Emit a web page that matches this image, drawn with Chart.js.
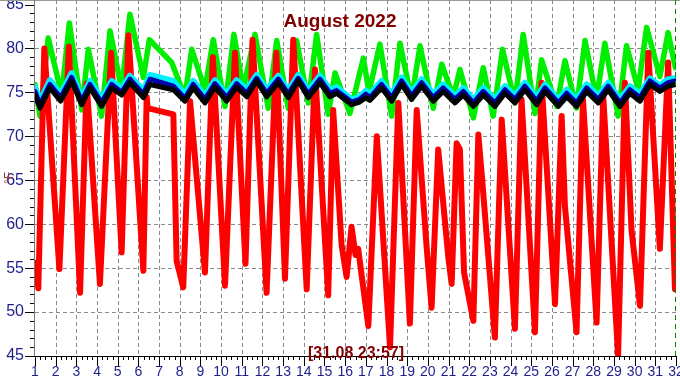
<!DOCTYPE html>
<html><head><meta charset="utf-8">
<script src="https://cdn.jsdelivr.net/npm/chart.js@4/dist/chart.umd.min.js"></script>
<style>html,body{margin:0;padding:0;background:#fff;}canvas{display:block;}</style>
</head><body>
<canvas id="c" width="680" height="380"></canvas>
<script>
// ---- data ----
const chartTitle = 'August 2022';
const stampLabel = '[31.08 23:57]';
const unitLabel = '°F';
const dayTicks = [1,2,3,4,5,6,7,8,9,10,11,12,13,14,15,16,17,18,19,20,21,22,23,24,25,26,27,28,29,30,31,32];
const tempTicks = [45,50,55,60,65,70,75,80,85];

const redDays = [1.00,1.16,1.45,2.18,2.64,3.18,3.50,4.14,4.68,5.19,5.52,6.24,6.40,6.45,7.69,7.85,8.17,8.50,9.22,9.60,10.19,10.67,11.18,11.52,12.20,12.67,13.09,13.49,14.14,14.54,15.18,15.42,15.83,16.07,16.31,16.50,16.63,17.12,17.53,18.17,18.57,19.13,19.46,19.94,20.18,20.50,20.99,21.15,21.39,21.55,21.75,22.20,22.44,22.60,23.24,23.57,24.21,24.53,25.18,25.50,26.15,26.47,26.63,27.19,27.50,28.16,28.48,29.20,29.53,29.85,30.26,30.66,31.22,31.62,31.95];
const redTemps = [55.6,52.7,80.0,54.9,80.2,52.2,76.0,53.2,79.5,56.8,81.5,54.7,74.5,73.2,72.5,55.8,52.8,74.0,54.5,79.0,53.0,79.5,55.5,81.0,52.2,79.5,53.8,81.0,52.6,77.6,51.9,73.0,57.6,54.0,59.7,56.5,57.2,48.4,70.0,46.0,73.8,48.7,73.0,57.4,50.5,68.5,56.2,53.2,69.2,68.5,54.5,49.0,70.2,65.8,47.1,71.9,48.1,74.2,47.7,76.1,50.9,72.3,62.0,47.7,74.2,48.8,74.6,45.0,76.1,59.3,50.7,79.5,57.2,78.4,52.6];

const greenDays = [1.00,1.24,1.64,2.29,2.66,3.26,3.58,4.22,4.63,5.19,5.59,6.24,6.53,7.61,8.25,8.58,9.22,9.62,10.19,10.62,11.07,11.64,12.28,12.69,13.25,13.65,14.22,14.62,15.18,15.51,16.23,16.88,17.15,17.68,18.25,18.65,19.21,19.62,20.26,20.67,21.23,21.55,22.20,22.68,23.16,23.61,24.21,24.61,25.18,25.50,26.23,26.63,27.19,27.60,28.16,28.56,29.20,29.61,30.17,30.58,31.22,31.62,31.97];
const greenTemps = [75.9,72.3,81.2,74.7,82.9,73.0,79.9,72.3,82.0,75.3,83.9,76.7,81.0,78.4,74.5,79.9,75.3,81.0,73.4,81.6,75.3,81.6,73.2,80.9,73.2,80.9,73.8,81.6,72.5,77.2,72.6,78.9,75.0,80.5,72.3,80.6,74.2,80.3,73.2,78.2,74.5,77.6,72.1,77.8,72.3,79.9,73.8,81.6,72.6,78.7,73.4,78.6,73.2,80.9,74.2,80.6,72.3,80.3,75.3,82.4,76.8,81.8,77.8];

const indoorDays = [1.00,1.24,1.72,2.24,2.77,3.26,3.66,4.22,4.71,5.19,5.59,6.24,6.56,7.69,8.25,8.65,9.22,9.70,10.27,10.75,11.24,11.72,12.20,12.77,13.25,13.73,14.22,14.78,15.26,15.59,16.31,16.70,17.00,17.20,17.76,18.25,18.73,19.21,19.70,20.26,20.74,21.31,21.71,22.20,22.68,23.24,23.73,24.21,24.69,25.26,25.66,26.31,26.71,27.19,27.68,28.24,28.72,29.29,29.77,30.26,30.74,31.22,31.62,31.97];
const cyanTemps = [75.6,74.0,76.4,74.8,77.2,74.4,76.3,74.2,76.3,75.4,76.9,75.2,77.0,76.3,74.8,76.3,74.6,76.4,74.8,76.4,75.3,77.0,75.3,76.9,75.2,77.0,75.2,76.9,75.3,75.6,74.2,74.5,75.2,74.8,76.3,74.8,76.7,75.0,76.5,74.8,75.9,74.6,75.5,74.2,75.5,74.2,75.7,74.6,76.1,74.4,75.9,74.2,75.3,74.2,75.9,74.6,76.1,74.2,75.7,74.8,76.6,75.8,76.5,76.6];
const blueTemps = [75.1,73.6,75.9,74.4,76.7,74.0,75.9,73.8,75.9,75.0,76.5,74.8,76.5,75.7,74.3,75.9,74.2,76.0,74.4,76.0,74.9,76.6,74.9,76.5,74.8,76.6,74.8,76.5,74.9,75.2,73.9,74.2,74.8,74.4,75.9,74.4,76.3,74.6,76.1,74.4,75.5,74.2,75.1,73.8,75.1,73.8,75.3,74.2,75.7,74.0,75.5,73.8,74.9,73.8,75.5,74.2,75.7,73.8,75.3,74.4,76.3,75.5,76.1,76.3];
const blackTemps = [74.7,73.2,75.5,74.0,76.3,73.6,75.5,73.4,75.5,74.7,76.1,74.4,75.9,75.3,74.0,75.5,73.8,75.6,74.0,75.6,74.5,76.3,74.5,76.1,74.4,76.3,74.4,76.1,74.5,74.9,73.6,73.9,74.4,74.1,75.5,74.0,75.9,74.2,75.7,74.0,75.1,73.8,74.7,73.4,74.7,73.4,74.9,73.8,75.3,73.6,75.1,73.4,74.5,73.4,75.1,73.8,75.3,73.4,74.9,74.0,75.9,75.1,75.7,75.9];

const pts = (xs, ys) => xs.map((x, i) => ({x: x, y: ys[i]}));
const line = (data, color, w) => ({data: data, borderColor: color, backgroundColor: color, borderWidth: w, showLine: true, pointRadius: 0, fill: false});

const frame = {
  id: 'frame',
  beforeDatasetsDraw(chart) {
    const {ctx, chartArea: a, scales: {x, y}} = chart;
    ctx.save();
    ctx.strokeStyle = '#999'; ctx.lineWidth = 1;
    ctx.beginPath(); ctx.moveTo(0, 0.5); ctx.lineTo(680, 0.5); ctx.stroke();
    ctx.strokeStyle = '#8a8a8a'; ctx.setLineDash([4, 3]);
    for (let i = 1; i < dayTicks.length - 1; i++) {
      const px = Math.round(x.getPixelForValue(dayTicks[i])) + 0.5;
      ctx.beginPath(); ctx.moveTo(px, 0); ctx.lineTo(px, a.bottom); ctx.stroke();
    }
    for (let i = 1; i < tempTicks.length - 1; i++) {
      const py = Math.round(y.getPixelForValue(tempTicks[i])) + 0.5;
      ctx.beginPath(); ctx.moveTo(a.left, py); ctx.lineTo(a.right, py); ctx.stroke();
    }
    ctx.restore();
  },
  afterDatasetsDraw(chart) {
    const {ctx, chartArea: a, scales: {x, y}} = chart;
    ctx.save();
    // now marker
    ctx.strokeStyle = '#008800'; ctx.lineWidth = 1; ctx.setLineDash([5, 4]);
    const nx = Math.round(x.getPixelForValue(dayTicks[dayTicks.length - 1])) - 0.5;
    ctx.beginPath(); ctx.moveTo(nx, 0); ctx.lineTo(nx, a.bottom); ctx.stroke();
    ctx.setLineDash([]);
    // axes
    ctx.strokeStyle = '#777';
    ctx.beginPath(); ctx.moveTo(a.left - 0.5, 0); ctx.lineTo(a.left - 0.5, a.bottom + 1); ctx.stroke();
    ctx.strokeStyle = '#000';
    ctx.beginPath(); ctx.moveTo(a.left - 1, a.bottom + 0.5); ctx.lineTo(a.right, a.bottom + 0.5); ctx.stroke();
    // y ticks (major every 5, minor every 1)
    const y0 = tempTicks[0], y1 = tempTicks[tempTicks.length - 1];
    for (let v = y0; v <= y1; v++) {
      const py = Math.round(y.getPixelForValue(v)) + 0.5;
      const len = (v % 5 === 0) ? 9 : 4;
      ctx.beginPath(); ctx.moveTo(a.left - 1 - len, py); ctx.lineTo(a.left - 1, py); ctx.stroke();
    }
    // x ticks (major every day, minor every 6 h)
    const d0 = dayTicks[0], d1 = dayTicks[dayTicks.length - 1];
    for (let q = 0; q <= (d1 - d0) * 4; q++) {
      const px = Math.round(x.getPixelForValue(d0 + q / 4)) + 0.5;
      const len = (q % 4 === 0) ? 10 : 4;
      ctx.beginPath(); ctx.moveTo(px, a.bottom); ctx.lineTo(px, a.bottom + len); ctx.stroke();
    }
    // texts
    ctx.fillStyle = '#800000';
    ctx.textAlign = 'center'; ctx.textBaseline = 'alphabetic';
    ctx.font = 'bold 19px "Liberation Sans", Arial, sans-serif';
    ctx.fillText(chartTitle, 340, 27);
    ctx.font = 'bold 16px "Liberation Sans", Arial, sans-serif';
    ctx.fillText(stampLabel, 356, 357.5);
    ctx.save();
    ctx.translate(10, 178); ctx.rotate(-Math.PI / 2);
    ctx.fillStyle = '#993333';
    ctx.font = '12px "Liberation Sans", Arial, sans-serif';
    ctx.textBaseline = 'middle';
    ctx.fillText(unitLabel, 0, 0);
    ctx.restore();
    ctx.restore();
  }
};

new Chart(document.getElementById('c'), {
  type: 'scatter',
  data: {
    datasets: [
      line(pts(indoorDays, blackTemps), '#000000', 5),
      line(pts(indoorDays, blueTemps), '#0000a8', 5),
      line(pts(indoorDays, cyanTemps), '#00f0ff', 6),
      line(pts(redDays, redTemps), '#ff0000', 6),
      line(pts(greenDays, greenTemps), '#00ee00', 5.5)
    ]
  },
  options: {
    responsive: false, animation: false, devicePixelRatio: 1,
    layout: {padding: {top: 1, right: 4, left: 0, bottom: 0}},
    plugins: {legend: {display: false}, tooltip: {enabled: false}, title: {display: false}},
    elements: {line: {tension: 0, borderJoinStyle: 'round', borderCapStyle: 'round'}, point: {radius: 0}},
    scales: {
      x: {
        type: 'linear', min: dayTicks[0], max: dayTicks[dayTicks.length - 1],
        grid: {display: false, drawTicks: false}, border: {display: false},
        ticks: {stepSize: 1, autoSkip: false, maxRotation: 0, minRotation: 0, padding: 8,
          color: '#1e1e8c', font: {family: '"Liberation Sans", Arial, sans-serif', size: 14},
          callback: v => dayTicks.includes(v) ? String(v) : ''},
        afterFit: s => { s.height = 24; s.paddingLeft = 0; s.paddingRight = 0; }
      },
      y: {
        type: 'linear', min: tempTicks[0], max: 85.4,
        grid: {display: false, drawTicks: false}, border: {display: false},
        ticks: {stepSize: 5, includeBounds: false, padding: 11,
          color: '#1e1e8c', font: {family: '"Liberation Sans", Arial, sans-serif', size: 16},
          callback: v => tempTicks.includes(v) ? String(v) : ''},
        afterFit: s => { s.width = 35; s.paddingTop = 0; s.paddingBottom = 0; }
      }
    }
  },
  plugins: [frame]
});
</script>
</body></html>
